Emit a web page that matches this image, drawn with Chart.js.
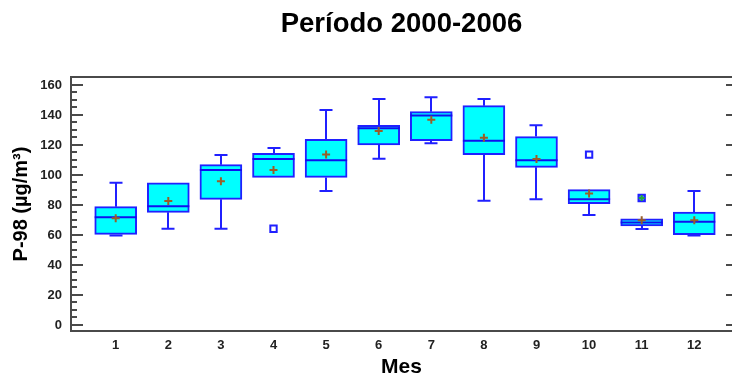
<!DOCTYPE html>
<html>
<head>
<meta charset="utf-8">
<script src="https://cdn.jsdelivr.net/npm/chart.js@4"></script>
<style>
  html, body { margin: 0; padding: 0; background: #ffffff; }
  #wrap { width: 732px; height: 380px; }
</style>
</head>
<body>
<div id="wrap"><canvas id="chart" width="732" height="380"></canvas></div>
<script>
// Monthly P-98 statistics, 2000-2006
const months      = [1, 2, 3, 4, 5, 6, 7, 8, 9, 10, 11, 12];
const whiskerHigh = [94.9, 94.7, 113.3, 118.0, 143.3, 150.7, 151.8, 150.7, 133.1, 90.2, 70.7, 89.3];
const upperQuart  = [78.9, 94.7, 106.9, 114.4, 123.8, 133.1, 142.2, 146.2, 125.6, 90.2, 70.7, 75.3];
const medians     = [71.8, 79.1, 103.3, 110.7, 109.8, 131.1, 139.6, 122.9, 109.8, 83.8, 68.4, 68.9];
const lowerQuart  = [60.4, 75.1, 83.8, 98.4, 98.4, 120.0, 122.9, 113.6, 105.1, 80.9, 66.0, 60.2];
const whiskerLow  = [59.6, 64.2, 64.2, 98.4, 89.3, 110.9, 121.1, 82.9, 83.8, 73.3, 64.0, 59.6];
const means       = [71.1, 82.7, 95.8, 103.3, 113.6, 129.3, 136.9, 124.9, 110.7, 87.6, 69.8, 69.8];
const outlierMonths = [4, 10];
const outlierValues = [64.2, 113.6];
const farOutlierMonths = [11];
const farOutlierValues = [84.7];
const yTickValues = [0, 20, 40, 60, 80, 100, 120, 140, 160];

const FONT = '"Liberation Sans", Arial, Helvetica, sans-serif';
const EDGE = '#2020ff';
const FRAME = '#4a4a4a';

const boxDecor = {
  id: 'boxDecor',
  // whiskers sit underneath the boxes
  beforeDatasetsDraw(chart) {
    const { ctx, scales: { x, y } } = chart;
    ctx.save();
    ctx.strokeStyle = EDGE;
    ctx.lineWidth = 2;
    const cap = 6.5;
    months.forEach((m, i) => {
      const px = Math.round(x.getPixelForValue(m));
      const seg = (from, to) => {
        const y0 = y.getPixelForValue(from), y1 = y.getPixelForValue(to);
        ctx.beginPath();
        ctx.moveTo(px, y0); ctx.lineTo(px, y1);
        ctx.moveTo(px - cap, y1); ctx.lineTo(px + cap, y1);
        ctx.stroke();
      };
      if (whiskerHigh[i] > upperQuart[i]) seg(upperQuart[i], whiskerHigh[i]);
      if (whiskerLow[i] < lowerQuart[i]) seg(lowerQuart[i], whiskerLow[i]);
    });
    ctx.restore();
  },
  // median line right after the boxes are painted
  afterDatasetDraw(chart, args) {
    if (args.index !== 0) return;
    const { ctx, scales: { x, y } } = chart;
    ctx.save();
    ctx.strokeStyle = '#1010ee';
    ctx.lineWidth = 2;
    months.forEach((m, i) => {
      const px = x.getPixelForValue(m);
      const py = y.getPixelForValue(medians[i]);
      ctx.beginPath();
      ctx.moveTo(px - 21, py); ctx.lineTo(px + 21, py);
      ctx.stroke();
    });
    ctx.restore();
  },
  // frame lines (the right side runs off the canvas) with inward tick marks
  afterDraw(chart) {
    const { ctx, chartArea: a, scales: { y } } = chart;
    ctx.save();
    ctx.strokeStyle = FRAME;
    ctx.lineWidth = 2;
    ctx.beginPath();
    ctx.moveTo(a.right, a.top); ctx.lineTo(a.left, a.top);
    ctx.lineTo(a.left, a.bottom); ctx.lineTo(a.right, a.bottom);
    ctx.stroke();
    ctx.beginPath();
    for (let v = 0; v <= 160; v += 5) {
      const py = Math.round(y.getPixelForValue(v));
      const major = v % 20 === 0;
      ctx.moveTo(a.left, py); ctx.lineTo(a.left + (major ? 12 : 6), py);
      if (major) { ctx.moveTo(a.right, py); ctx.lineTo(a.right - 6, py); }
    }
    ctx.stroke();
    ctx.restore();
  }
};

new Chart(document.getElementById('chart'), {
  type: 'bar',
  data: {
    datasets: [
      {
        type: 'bar',
        order: 5,
        data: months.map((m, i) => ({ x: m, y: [lowerQuart[i], upperQuart[i]] })),
        backgroundColor: '#00ffff',
        borderColor: EDGE,
        borderWidth: 2,
        borderSkipped: false,
        barThickness: 42,
        grouped: false
      },
      {
        type: 'scatter',
        order: 0,
        data: months.map((m, i) => ({ x: m, y: means[i] })),
        pointStyle: 'cross',
        pointRadius: 4,
        pointBorderWidth: 2,
        pointBorderColor: '#9a5e28'
      },
      {
        type: 'scatter',
        order: 3,
        data: outlierMonths.map((m, i) => ({ x: m, y: outlierValues[i] })),
        pointStyle: 'rect',
        pointRadius: 4.5,
        pointBorderWidth: 2,
        pointBorderColor: EDGE,
        pointBackgroundColor: '#ffffff'
      },
      {
        type: 'scatter',
        order: 2,
        data: farOutlierMonths.map((m, i) => ({ x: m, y: farOutlierValues[i] })),
        pointStyle: 'rect',
        pointRadius: 4.5,
        pointBorderWidth: 2,
        pointBorderColor: EDGE,
        pointBackgroundColor: '#4f7cff'
      },
      {
        type: 'scatter',
        order: 1,
        data: farOutlierMonths.map((m, i) => ({ x: m, y: farOutlierValues[i] })),
        pointStyle: 'cross',
        pointRadius: 3,
        pointBorderWidth: 2,
        pointBorderColor: '#22a83a'
      }
    ]
  },
  options: {
    responsive: false,
    animation: false,
    events: [],
    layout: { autoPadding: false, padding: { left: 0, right: 0, top: 0, bottom: 0 } },
    plugins: {
      legend: { display: false },
      tooltip: { enabled: false },
      title: {
        display: true,
        fullSize: false,
        text: 'Período 2000-2006',
        color: '#000000',
        font: { family: FONT, size: 27.5, weight: 'bold' },
        padding: { top: 8, bottom: 36 }
      }
    },
    scales: {
      x: {
        type: 'linear',
        offset: false,
        min: 0.15,
        max: 12.717,
        grid: { display: false, drawTicks: false },
        border: { display: false },
        afterBuildTicks: s => { s.ticks = months.map(v => ({ value: v })); },
        afterFit: s => { s.height = 49; },
        ticks: {
          padding: 7,
          color: '#222222',
          font: { family: FONT, size: 13, weight: 'bold' },
          callback: v => String(v)
        },
        title: {
          display: true,
          text: 'Mes',
          color: '#000000',
          font: { family: FONT, size: 21, weight: 'bold' },
          padding: { top: 0, bottom: 0 }
        }
      },
      y: {
        min: -4,
        max: 165.33,
        grid: { display: false, drawTicks: false },
        border: { display: false },
        afterBuildTicks: s => { s.ticks = yTickValues.map(v => ({ value: v })); },
        afterFit: s => { s.width = 71; },
        ticks: {
          padding: 9,
          color: '#222222',
          font: { family: FONT, size: 13, weight: 'bold' },
          callback: v => String(v)
        },
        title: {
          display: true,
          text: 'P-98 (µg/m³)',
          color: '#000000',
          font: { family: FONT, size: 20, weight: 'bold' },
          padding: { top: 9, bottom: 0 }
        }
      }
    }
  },
  plugins: [boxDecor]
});
</script>
</body>
</html>
